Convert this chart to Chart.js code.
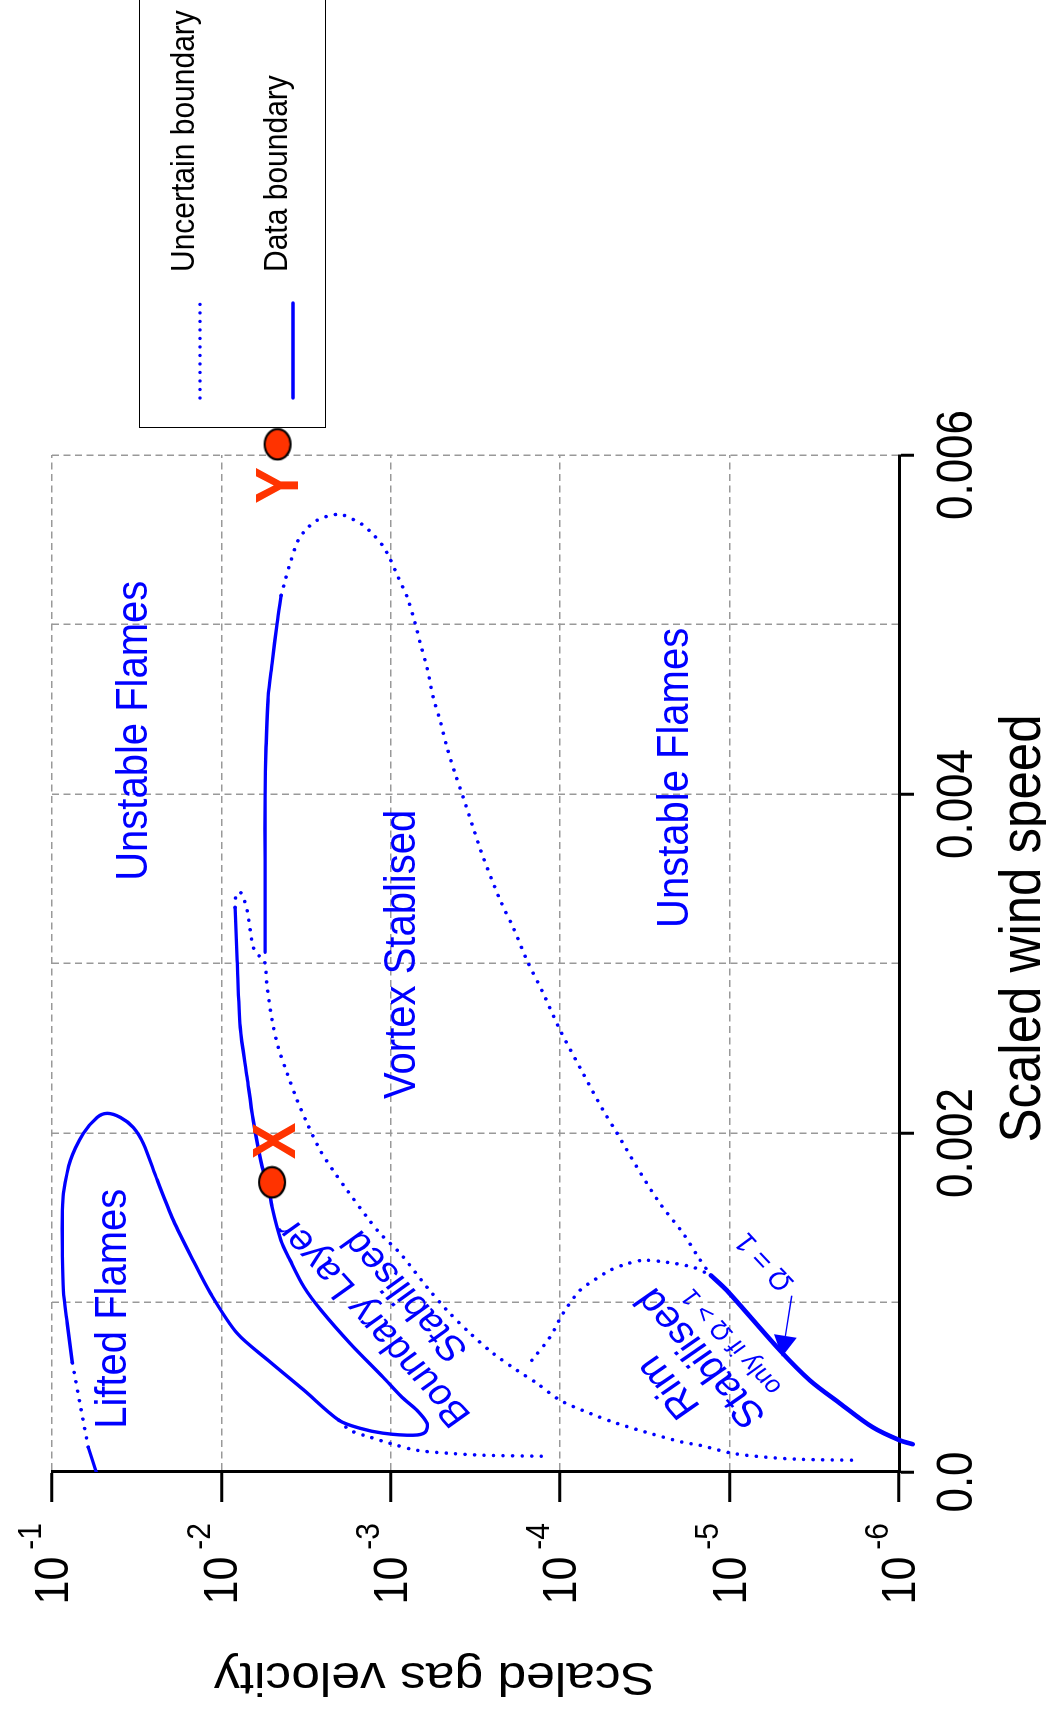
<!DOCTYPE html>
<html>
<head>
<meta charset="utf-8">
<script src="https://cdn.jsdelivr.net/npm/chart.js@4.4.1/dist/chart.umd.min.js"></script>
<style>
  html, body { margin: 0; padding: 0; overflow: hidden; background: #fff; width: 1046px; height: 1715px; }
  #frame { position: absolute; left: 0; top: 0; width: 1715px; height: 1046px;
           transform-origin: 0 0; transform: translateY(1715px) rotate(-90deg); }
  canvas { display: block; }
</style>
</head>
<body>
<div id="frame"><canvas id="regime" width="1715" height="1046"></canvas></div>
<script>
// ---- axes ----
const gasTicks = [1e-1, 1e-2, 1e-3, 1e-4, 1e-5, 1e-6];
const windGrid = [0, 0.001, 0.002, 0.003, 0.004, 0.005, 0.006];
const windTicks = [0, 0.002, 0.004, 0.006];
const windTickLabels = ['0.0', '0.002', '0.004', '0.006'];
const legendLabels = ['Uncertain boundary', 'Data boundary'];

// ---- lifted-flame / boundary-layer data boundary ----
const windLiftedBase = [0, 0.000146];
const gasLiftedBase  = [0.0548, 0.0611];
const windLiftedGap  = [0.000146, 0.000394, 0.000647];
const gasLiftedGap   = [0.0611, 0.0681, 0.0759];
const windLoop = [0.000647, 0.000876, 0.001072, 0.001308, 0.001544, 0.001643, 0.001838, 0.001998, 0.002092, 0.002116,
                  0.002092, 0.002033, 0.001939, 0.001721, 0.001485, 0.001249, 0.001054, 0.000818, 0.000659, 0.000482,
                  0.000305, 0.000258, 0.000229, 0.000217, 0.000234, 0.000287, 0.000364, 0.000441, 0.000559, 0.000759,
                  0.000954, 0.001090, 0.001249, 0.001367, 0.001562, 0.001703, 0.001798, 0.002075, 0.002328, 0.002623,
                  0.003019, 0.003331];
const gasLoop  = [0.0759, 0.0813, 0.0857, 0.0869, 0.0869, 0.0857, 0.0780, 0.0653, 0.0541, 0.0472,
                  0.0395, 0.0331, 0.0289, 0.0239, 0.0192, 0.0147, 0.0116, 0.00807, 0.00530, 0.00325,
                  0.00202, 0.00152, 0.00111, 0.000738, 0.000627, 0.000611, 0.000700, 0.000859, 0.00111, 0.00174,
                  0.00258, 0.00325, 0.00393, 0.00445, 0.00502, 0.00530, 0.00574, 0.00649, 0.00705, 0.00774,
                  0.00807, 0.00830];

// ---- upper unstable limit (data) ----
const windUpper = [0.003066, 0.003609, 0.003981, 0.004276, 0.004571, 0.004771, 0.005007, 0.005172];
const gasUpper  = [0.00552, 0.00552, 0.00552, 0.00545, 0.00530, 0.00502, 0.00469, 0.00444];

// ---- outer vortex limit (uncertain) ----
const windVortexOuter = [0.005172, 0.005261, 0.005361, 0.005497, 0.005567, 0.005615, 0.005638, 0.005650, 0.005620, 0.005591,
                         0.005538, 0.005467, 0.005396, 0.005278, 0.005160, 0.005007, 0.004889, 0.004741, 0.004571, 0.004435,
                         0.004276, 0.004123, 0.003981, 0.003804, 0.003627, 0.003373, 0.003214, 0.003019, 0.002824, 0.002606,
                         0.002352, 0.002134, 0.001998, 0.001798, 0.001585, 0.001408, 0.001267, 0.001160];
const gasVortexOuter  = [0.00444, 0.00420, 0.00393, 0.00352, 0.00312, 0.00272, 0.00238, 0.00199, 0.00167, 0.00148,
                         0.00129, 0.00112, 0.00102, 0.000904, 0.000800, 0.000718, 0.000670, 0.000610, 0.000562, 0.000512,
                         0.000466, 0.000418, 0.000374, 0.000327, 0.000285, 0.000226, 0.000190, 0.000157, 0.000126, 0.000100,
                         0.0000733, 0.0000558, 0.0000461, 0.0000352, 0.0000258, 0.0000188, 0.0000153, 0.0000129];

// ---- rim-stabilised limit (data) ----
const windRim = [0.001160, 0.001072, 0.000718, 0.000541, 0.000405, 0.000264, 0.000187, 0.000164];
const gasRim  = [0.0000129, 0.0000104, 0.00000505, 0.00000336, 0.00000223, 0.00000143, 0.00000099, 0.00000083];

// ---- inner vortex limit (uncertain) ----
const windVortexInner = [0.003331, 0.003373, 0.003415, 0.003421, 0.003391, 0.003314, 0.003196, 0.003096, 0.003049, 0.003019,
                         0.002860, 0.002665, 0.002506, 0.002352, 0.002193, 0.002057, 0.001897, 0.001779, 0.001662, 0.001503,
                         0.001408, 0.001290, 0.001090, 0.000954, 0.000818, 0.000700, 0.000600, 0.000523, 0.000423, 0.000346,
                         0.000287, 0.000228, 0.000175, 0.000158, 0.000110, 0.000087, 0.000075, 0.000069];
const gasVortexInner  = [0.00830, 0.00830, 0.00807, 0.00774, 0.00743, 0.00705, 0.00676, 0.00649, 0.00605, 0.00558,
                         0.00537, 0.00502, 0.00462, 0.00409, 0.00357, 0.00312, 0.00261, 0.00219, 0.00181, 0.00138,
                         0.00116, 0.000881, 0.000611, 0.000466, 0.000340, 0.000249, 0.000180, 0.000137, 0.000100, 0.0000667,
                         0.0000462, 0.0000295, 0.0000188, 0.0000150, 0.00000957, 0.00000603, 0.00000385, 0.00000170];

// ---- lifted-flame lower limit extension (uncertain) ----
const windLiftedTail = [0.000305, 0.000246, 0.000205, 0.000169, 0.000128, 0.000110, 0.000099, 0.000093];
const gasLiftedTail  = [0.00202, 0.00174, 0.00132, 0.00101, 0.000700, 0.000447, 0.000285, 0.000128];

// ---- rim arch (uncertain) ----
const windRimArch = [0.000659, 0.000795, 0.000936, 0.001072, 0.001136, 0.001190, 0.001225, 0.001249, 0.001237, 0.001208, 0.001160];
const gasRimArch  = [0.000147, 0.000115, 0.0000962, 0.0000764, 0.0000622, 0.0000508, 0.0000414, 0.0000324, 0.0000234, 0.0000164, 0.0000129];

// ---- operating points X and Y ----
const pointNames = ['X', 'Y'];
const pointWind  = [0.001709, 0.006063];
const pointGas   = [0.00502, 0.00466];

// ---- style ----
const BLUE = '#0000ff';
const RED = '#ff3300';
const GRID = '#999999';
const FONT = '"Liberation Sans", Arial, Helvetica, sans-serif';
const TEXT_STRETCH = 1.12;
const DOTS = [0.01, 9.5];

const pts = (w, g) => w.map((x, i) => ({ x, y: g[i] }));

const solid = (data, width = 3.4, extra = {}) => Object.assign({
  data, showLine: true, borderColor: BLUE, borderWidth: width, borderCapStyle: 'round',
  borderJoinStyle: 'round', pointRadius: 0, tension: 0.3, fill: false, order: 2
}, extra);
const dotted = (data) => ({
  data, showLine: true, borderColor: BLUE, borderWidth: 3.6, borderDash: DOTS, borderCapStyle: 'round',
  pointRadius: 0, tension: 0.3, fill: false, order: 2
});

// Filled ellipse marker
function ellipseMarker() {
  const c = document.createElement('canvas');
  c.width = 34; c.height = 30;
  const g = c.getContext('2d');
  g.beginPath();
  g.ellipse(17, 15, 15.2, 13.0, 0, 0, Math.PI * 2);
  g.fillStyle = RED; g.fill();
  g.lineWidth = 2.2; g.strokeStyle = '#000'; g.stroke();
  return c;
}

function drawText(ctx, str, u, v, o) {
  ctx.save();
  ctx.translate(u, v);
  ctx.scale(1, TEXT_STRETCH);
  if (o.angle) ctx.rotate(Math.atan(Math.tan(o.angle * Math.PI / 180) / TEXT_STRETCH));
  ctx.font = `${o.weight || 'normal'} ${o.size}px ${FONT}`;
  ctx.fillStyle = o.color || '#000';
  ctx.textAlign = o.align || 'center';
  ctx.textBaseline = o.baseline || 'middle';
  ctx.fillText(str, 0, 0);
  ctx.restore();
}
function textWidth(ctx, str, size) {
  ctx.save();
  ctx.font = `normal ${size}px ${FONT}`;
  const w = ctx.measureText(str).width;
  ctx.restore();
  return w;
}

// Region names and notes, anchored in data coordinates
const regionNotes = [
  { text: 'Lifted Flames',    wind: 0.000963, gas: 0.0432,    size: 40, angle: 0 },
  { text: 'Unstable Flames',  wind: 0.004373, gas: 0.0325,    size: 40, angle: 0 },
  { text: 'Vortex Stablised', wind: 0.003054, gas: 0.000852,  size: 40, angle: 0 },
  { text: 'Unstable Flames',  wind: 0.004095, gas: 0.0000207, size: 40, angle: 0 },
  { text: 'Boundary Layer',   wind: 0.000883, gas: 0.00125,   size: 36, angle: -42 },
  { text: 'Stabilised',       wind: 0.001042, gas: 0.000813,  size: 36, angle: -42 },
  { text: 'Rim',              wind: 0.000505, gas: 0.0000228, size: 38, angle: -41 },
  { text: 'Stabilised',       wind: 0.000677, gas: 0.0000146, size: 38, angle: -41 },
  { text: 'only if \u03A9 > 1', wind: 0.000771, gas: 0.00000968, size: 24, angle: -42 },
  { text: '\u03A9 = 1',         wind: 0.001243, gas: 0.00000618, size: 27, angle: -43 }
];
const pointLabelAnchors = [
  { wind: 0.001954, gas: 0.00466 },
  { wind: 0.005821, gas: 0.00447 }
];
const omegaArrow = { fromWind: 0.00104, fromGas: 0.0000043, toWind: 0.00068, toGas: 0.0000049 };

const annotate = {
  id: 'annotate',
  afterDraw(chart) {
    const ctx = chart.ctx;
    const xS = chart.scales.x, yS = chart.scales.y;
    const area = chart.chartArea;

    // wind-speed tick labels
    windTicks.forEach((t, i) => {
      drawText(ctx, windTickLabels[i], xS.getPixelForValue(t) - 10, xS.top + 73,
               { size: 44, baseline: 'alphabetic' });
    });
    // gas-velocity decade labels, 10 with raised exponent
    gasTicks.forEach(val => {
      const v = yS.getPixelForValue(val);
      const exp = String(Math.round(Math.log10(val)));
      const right = yS.right - 51;
      drawText(ctx, exp, right, v - 11.5, { size: 30, align: 'right', baseline: 'alphabetic' });
      const w = textWidth(ctx, exp, 30);
      drawText(ctx, '10', right - w - 7, v + 16, { size: 43, align: 'right', baseline: 'alphabetic' });
    });
    // axis titles
    drawText(ctx, 'Scaled wind speed', (area.left + area.right) / 2 + 35, xS.top + 141,
             { size: 51, baseline: 'alphabetic' });
    drawText(ctx, 'Scaled gas velocity', yS.left + 52, (area.top + area.bottom) / 2 - 41,
             { size: 46, baseline: 'alphabetic', angle: -90 });

    // region names
    regionNotes.forEach(n => {
      drawText(ctx, n.text, xS.getPixelForValue(n.wind), yS.getPixelForValue(n.gas),
               { size: n.size, color: BLUE, angle: n.angle });
    });

    // Ω = 1 pointer
    const p0 = { x: xS.getPixelForValue(omegaArrow.fromWind), y: yS.getPixelForValue(omegaArrow.fromGas) };
    const p1 = { x: xS.getPixelForValue(omegaArrow.toWind), y: yS.getPixelForValue(omegaArrow.toGas) };
    const a = Math.atan2(p1.y - p0.y, p1.x - p0.x);
    const headLen = 21, headHalf = 11.5;
    const bx = p1.x - headLen * Math.cos(a), by = p1.y - headLen * Math.sin(a);
    ctx.save();
    ctx.strokeStyle = BLUE; ctx.fillStyle = BLUE; ctx.lineWidth = 1.4;
    ctx.beginPath(); ctx.moveTo(p0.x, p0.y); ctx.lineTo(bx, by); ctx.stroke();
    ctx.beginPath();
    ctx.moveTo(p1.x, p1.y);
    ctx.lineTo(bx + headHalf * Math.sin(a), by - headHalf * Math.cos(a));
    ctx.lineTo(bx - headHalf * Math.sin(a), by + headHalf * Math.cos(a));
    ctx.closePath(); ctx.fill();
    ctx.restore();

    // X / Y labels
    pointNames.forEach((name, i) => {
      drawText(ctx, name, xS.getPixelForValue(pointLabelAnchors[i].wind), yS.getPixelForValue(pointLabelAnchors[i].gas),
               { size: 55, weight: 'bold', color: RED });
    });

    // legend
    const lx = area.right + 27, ltop = area.top + 87, lbot = area.top + 273;
    ctx.save();
    ctx.strokeStyle = '#000'; ctx.lineWidth = 1;
    ctx.strokeRect(lx + 0.5, ltop + 0.5, 700, lbot - ltop);
    const rows = [ltop + 61, ltop + 154];
    rows.forEach((v, i) => {
      ctx.save();
      ctx.strokeStyle = BLUE; ctx.lineWidth = 3.4; ctx.lineCap = 'round';
      ctx.setLineDash(i === 0 ? [0.01, 8.5] : []);
      ctx.beginPath(); ctx.moveTo(lx + 30, v); ctx.lineTo(lx + 125, v); ctx.stroke();
      ctx.restore();
      drawText(ctx, legendLabels[i], lx + 156, v - 6, { size: 30, align: 'left', baseline: 'alphabetic' });
    });
    ctx.restore();
  }
};

new Chart(document.getElementById('regime'), {
  type: 'scatter',
  data: {
    datasets: [
      { data: pts(pointWind, pointGas), pointStyle: ellipseMarker(), pointRadius: 16, showLine: false,
        clip: false, order: 0 },
      solid(pts(windLiftedBase, gasLiftedBase)),
      dotted(pts(windLiftedGap, gasLiftedGap)),
      solid(pts(windLoop, gasLoop)),
      solid(pts(windUpper, gasUpper)),
      dotted(pts(windVortexOuter, gasVortexOuter)),
      solid(pts(windRim, gasRim), 4.6, { clip: false }),
      dotted(pts(windVortexInner, gasVortexInner)),
      dotted(pts(windLiftedTail, gasLiftedTail)),
      dotted(pts(windRimArch, gasRimArch))
    ]
  },
  options: {
    responsive: false,
    animation: false,
    devicePixelRatio: 1,
    layout: { padding: { top: 52, right: 455, left: 0, bottom: 0 } },
    plugins: { legend: { display: false }, tooltip: { enabled: false } },
    events: [],
    scales: {
      x: {
        type: 'linear', position: 'bottom', min: 0, max: 0.006,
        afterBuildTicks: s => { s.ticks = windGrid.map(v => ({ value: v })); },
        ticks: { display: false },
        grid: {
          color: GRID, lineWidth: 1.5, tickLength: 15, tickWidth: 3,
          tickColor: c => windTicks.some(t => Math.abs(t - c.tick.value) < 1e-9) ? '#000' : 'rgba(0,0,0,0)'
        },
        border: { display: true, color: '#000', width: 3, dash: [7, 4.5] },
        afterFit: s => { s.height = 147; }
      },
      y: {
        type: 'logarithmic', position: 'left', min: 1e-6, max: 1e-1,
        afterBuildTicks: s => { s.ticks = gasTicks.map(v => ({ value: v })); },
        ticks: { display: false },
        grid: { color: GRID, lineWidth: 1.5, tickLength: 30, tickWidth: 3, tickColor: '#000' },
        border: { display: true, color: '#000', width: 3, dash: [7, 4.5] },
        afterFit: s => { s.width = 243; }
      }
    }
  },
  plugins: [annotate]
});
</script>
</body>
</html>
